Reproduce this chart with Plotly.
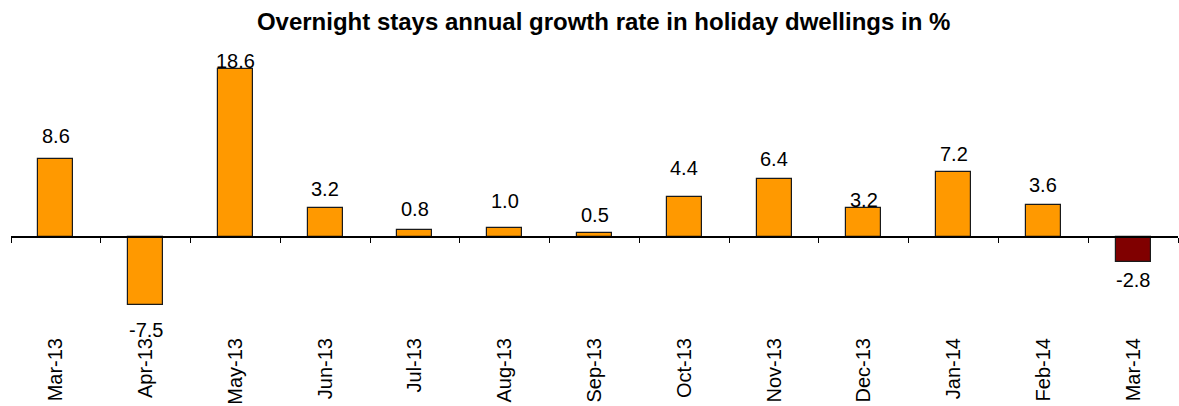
import plotly.graph_objects as go

categories = ["Mar-13", "Apr-13", "May-13", "Jun-13", "Jul-13", "Aug-13", "Sep-13",
              "Oct-13", "Nov-13", "Dec-13", "Jan-14", "Feb-14", "Mar-14"]
values = [8.6, -7.5, 18.6, 3.2, 0.8, 1.0, 0.5, 4.4, 6.4, 3.2, 7.2, 3.6, -2.8]
labels = ["8.6", "-7.5", "18.6", "3.2", "0.8", "1.0", "0.5", "4.4", "6.4", "3.2", "7.2", "3.6", "-2.8"]

# label distance from bar end in pixels (as placed in the original)
label_gap_px = [23, 25, 8, 19, 21, 27, 18, 29, 20, 8, 18, 20, 18]

ORANGE = "#FF9900"
DARKRED = "#800000"
colors = [DARKRED if i == len(values) - 1 else ORANGE for i in range(len(values))]

FONT = "Liberation Sans, Arial, sans-serif"
ymin, ymax = -10.63, 20.27
xs = list(range(len(categories)))

fig = go.Figure()
fig.add_trace(go.Bar(
    x=xs, y=values, width=0.39,
    marker=dict(color=colors, line=dict(color="#1a1a1a", width=1.2)),
    hoverinfo="skip", showlegend=False,
))

for x, v, t, g in zip(xs, values, labels, label_gap_px):
    fig.add_annotation(
        x=x, y=v, xref="x", yref="y", text=t, showarrow=False,
        yanchor="middle", yshift=g if v >= 0 else -g,
        font=dict(family=FONT, size=20, color="#000000"),
    )

fig.update_layout(
    width=1179, height=406,
    margin=dict(l=11, r=1, t=54, b=73, autoexpand=False),
    paper_bgcolor="white", plot_bgcolor="white",
    title=dict(text="<b>Overnight stays annual growth rate in holiday dwellings in %</b>",
               x=0.512, xanchor="center", y=0.946, yanchor="middle",
               font=dict(family=FONT, size=24, color="#000000")),
    xaxis=dict(range=[-0.5, len(categories) - 0.5], tickmode="array", tickvals=xs,
               ticktext=categories, tickangle=-90, showline=False, showgrid=False,
               zeroline=False, ticks="", automargin=False,
               tickfont=dict(family=FONT, size=20, color="#000000")),
    xaxis2=dict(range=[-0.5, len(categories) - 0.5], overlaying="x", anchor="free",
                position=(0 - ymin) / (ymax - ymin), side="bottom", automargin=False,
                tickmode="array", tickvals=[i - 0.5 for i in range(len(categories) + 1)],
                showticklabels=False, ticks="outside", ticklen=5, tickwidth=1,
                tickcolor="#000000", showline=True, linecolor="#000000", linewidth=2,
                showgrid=False, zeroline=False),
    yaxis=dict(range=[ymin, ymax], visible=False, showgrid=False, zeroline=False,
               automargin=False),
    bargap=0,
)

# invisible trace to activate xaxis2
fig.add_trace(go.Scatter(x=[0], y=[0], xaxis="x2", yaxis="y", mode="markers",
                         marker=dict(opacity=0), hoverinfo="skip", showlegend=False))

fig.write_html("out.html", config={"displayModeBar": False},
               post_script="document.body.style.margin='0';document.body.style.overflow='hidden';")
